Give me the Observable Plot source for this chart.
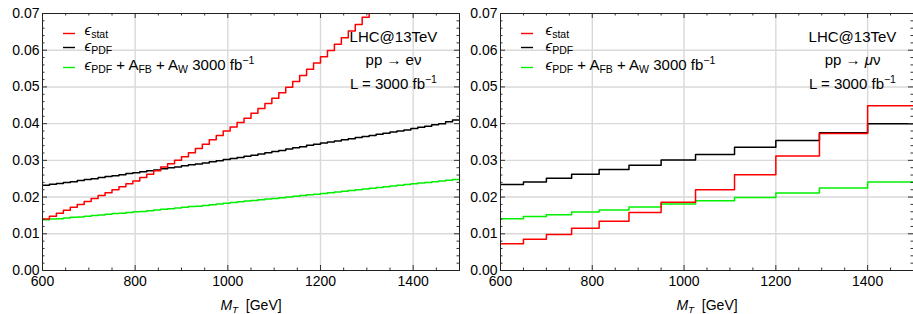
<!DOCTYPE html>
<html><head><meta charset="utf-8">
<script src="https://cdn.jsdelivr.net/npm/d3@7"></script>
<script src="https://cdn.jsdelivr.net/npm/@observablehq/plot@0.6"></script>
<style>
body{margin:0;background:#fff;}
#wrap{display:flex;width:913px;height:314px;overflow:hidden;background:#fff;}
#wrap > svg{flex:none;}
</style></head><body><div id="wrap"></div>
<script>
// ---------- data: left panel (pp -> e nu), 15 GeV bins ----------
const edgesL = [600,615,630,645,660,675,690,705,720,735,750,765,780,795,810,825,840,855,870,885,900,915,930,945,960,975,990,1005,1020,1035,1050,1065,1080,1095,1110,1125,1140,1155,1170,1185,1200,1215,1230,1245,1260,1275,1290,1305,1320,1335,1350,1365,1380,1395,1410,1425,1440,1455,1470,1485,1500];
const statL = [0.0140,0.0148,0.0156,0.0164,0.0172,0.0180,0.0188,0.0196,0.0204,0.0212,0.0220,0.0228,0.0236,0.0244,0.0253,0.0262,0.0272,0.0282,0.0291,0.0300,0.0310,0.0321,0.0332,0.0344,0.0356,0.0368,0.0380,0.0391,0.0403,0.0415,0.0428,0.0441,0.0455,0.0469,0.0484,0.0499,0.0515,0.0531,0.0548,0.0565,0.0582,0.0599,0.0616,0.0634,0.0652,0.0670,0.0690,0.0712];
const pdfL = [0.0232,0.0235,0.0237,0.0240,0.0242,0.0245,0.0248,0.0250,0.0253,0.0256,0.0258,0.0261,0.0264,0.0266,0.0269,0.0272,0.0274,0.0277,0.0280,0.0282,0.0285,0.0288,0.0290,0.0293,0.0296,0.0299,0.0302,0.0305,0.0308,0.0311,0.0314,0.0317,0.0321,0.0324,0.0327,0.0331,0.0334,0.0337,0.0341,0.0344,0.0347,0.0350,0.0353,0.0356,0.0359,0.0362,0.0365,0.0368,0.0371,0.0374,0.0377,0.0380,0.0383,0.0387,0.0390,0.0393,0.0397,0.0400,0.0405,0.0410];
const combL = [0.0138,0.0140,0.0141,0.0143,0.0145,0.0146,0.0148,0.0150,0.0151,0.0153,0.0155,0.0156,0.0158,0.0160,0.0161,0.0163,0.0165,0.0167,0.0168,0.0170,0.0172,0.0174,0.0175,0.0177,0.0179,0.0181,0.0183,0.0185,0.0187,0.0189,0.0191,0.0193,0.0195,0.0196,0.0198,0.0200,0.0202,0.0204,0.0206,0.0208,0.0210,0.0212,0.0214,0.0216,0.0218,0.0220,0.0222,0.0224,0.0226,0.0228,0.0230,0.0232,0.0234,0.0236,0.0238,0.0240,0.0242,0.0244,0.0246,0.0248];

// ---------- data: right panel (pp -> mu nu), coarse bins ----------
const edgesR = [600,650,700,755,815,880,950,1025,1110,1200,1295,1400,1500];
const statR = [0.0073,0.0085,0.0098,0.0115,0.0134,0.0158,0.0186,0.0220,0.0261,0.0312,0.0373,0.0449];
const pdfR = [0.0234,0.0241,0.0251,0.0262,0.0275,0.0287,0.0301,0.0316,0.0336,0.0354,0.0375,0.0400];
const combR = [0.0141,0.0147,0.0152,0.0159,0.0165,0.0173,0.0181,0.0190,0.0199,0.0211,0.0225,0.0241];

// ---------- labels & ticks ----------
const seriesNames = ["*ϵ*_{stat}", "*ϵ*_{PDF}", "*ϵ*_{PDF} + A_{FB} + A_{W} 3000 fb^{−1}"];
const seriesColors = ["#ff0000", "#000000", "#00f000"];
const annotL = ["LHC@13TeV", "pp → eν", "L = 3000 fb^{−1}"];
const annotR = ["LHC@13TeV", "pp → *μ*ν", "L = 3000 fb^{−1}"];
const xLabel = "*M*_{*T*}\u00a0\u00a0[GeV]";
const xMajor = [600, 800, 1000, 1200, 1400];
const xMinor = [650,700,750,850,900,950,1050,1100,1150,1250,1300,1350,1450,1500];
const xGrid = [800, 1000, 1200, 1400];
const yMajor = [0, 0.01, 0.02, 0.03, 0.04, 0.05, 0.06, 0.07];
const yMinor = [0.002,0.004,0.006,0.008,0.012,0.014,0.016,0.018,0.022,0.024,0.026,0.028,0.032,0.034,0.036,0.038,0.042,0.044,0.046,0.048,0.052,0.054,0.056,0.058,0.062,0.064,0.066,0.068];
const yGrid = [0.01, 0.02, 0.03, 0.04, 0.05, 0.06];

const H = 314, MT = 13, MB = 44;
const FONT = "'Liberation Sans', Arial, 'DejaVu Sans', sans-serif";

function stepRows(edges, values) {
  const rows = values.map((v, i) => ({x: edges[i], y: v}));
  rows.push({x: edges[values.length], y: values[values.length - 1]});
  return rows;
}

function panel({width, marginLeft, marginRight, edges, series, annot, legendDx, annotDx}) {
  const fw = width - marginLeft - marginRight, fh = H - MT - MB;
  const tickCol = "#333";
  const marks = [
    Plot.ruleX(xGrid, {x: d => d, stroke: "#d9d9d9", strokeWidth: 1.4}),
    Plot.ruleY(yGrid, {y: d => d, stroke: "#d9d9d9", strokeWidth: 1.4}),
  ];
  [2, 1, 0].forEach(k => {
    marks.push(Plot.line(stepRows(edges, series[k]), {x: "x", y: "y", curve: "step-after", stroke: seriesColors[k], strokeWidth: 1.5, clip: true}));
  });
  // inward ticks on all four sides
  marks.push(
    Plot.ruleX(xMajor, {x: d => d, insetTop: fh - 5, stroke: tickCol}),
    Plot.ruleX(xMajor, {x: d => d, insetBottom: fh - 5, stroke: tickCol}),
    Plot.ruleX(xMinor, {x: d => d, insetTop: fh - 2.5, stroke: tickCol}),
    Plot.ruleX(xMinor, {x: d => d, insetBottom: fh - 2.5, stroke: tickCol}),
    Plot.ruleY(yMajor, {y: d => d, insetRight: fw - 5, stroke: tickCol}),
    Plot.ruleY(yMajor, {y: d => d, insetLeft: fw - 5, stroke: tickCol}),
    Plot.ruleY(yMinor, {y: d => d, insetRight: fw - 2.5, stroke: tickCol}),
    Plot.ruleY(yMinor, {y: d => d, insetLeft: fw - 2.5, stroke: tickCol}),
    Plot.frame({stroke: "#222", strokeWidth: 1}),
    Plot.axisY({ticks: yMajor, tickSize: 0, tickPadding: 3, tickFormat: d3.format(".2f"), label: null, fontSize: 14}),
    Plot.axisX({ticks: xMajor, tickSize: 0, tickPadding: 6, tickFormat: d3.format("d"), label: null, fontSize: 14}),
    Plot.text([xLabel], {text: d => d, frameAnchor: "bottom", lineAnchor: "middle", dy: 35, fontSize: 14})
  );
  // legend
  const legDy = [17, 33, 52];
  const swDy = [20, 34, 54];
  seriesNames.forEach((name, k) => {
    marks.push(Plot.ruleY([0.07], {y: d => d, dy: swDy[k], insetLeft: 21, insetRight: fw - 33, stroke: seriesColors[k], strokeWidth: 1.4}));
    marks.push(Plot.text([name], {text: d => d, frameAnchor: "top-left", lineAnchor: "middle", dx: legendDx, dy: legDy[k], textAnchor: "start", fontSize: 15}));
  });
  // annotation
  const annDy = [24, 47, 71];
  annot.forEach((a, k) => {
    marks.push(Plot.text([a], {text: d => d, frameAnchor: "top-right", lineAnchor: "middle", dx: annotDx, dy: annDy[k], textAnchor: "middle", fontSize: 15}));
  });
  return Plot.plot({
    width, height: H, marginTop: MT, marginBottom: MB, marginLeft, marginRight,
    x: {domain: [600, 1500]},
    y: {domain: [0, 0.07]},
    style: {fontFamily: FONT, fontSize: "14px", background: "#fff", color: "#000"},
    marks
  });
}

function parseRich(s) {
  const runs = []; let level = 0, italic = false, buf = ""; const stack = [];
  const push = () => { if (buf) runs.push({text: buf, level, italic}); buf = ""; };
  for (let i = 0; i < s.length; i++) {
    const c = s[i];
    if ((c === "_" || c === "^") && s[i + 1] === "{") { push(); stack.push(level); level = c === "_" ? 1 : 2; i++; }
    else if (c === "}" && stack.length) { push(); level = stack.pop(); }
    else if (c === "*") { push(); italic = !italic; }
    else buf += c;
  }
  push();
  return runs;
}

function richify(svg) {
  svg.querySelectorAll("text").forEach(t => {
    const s = t.textContent;
    if (!/[_^*]/.test(s)) return;
    const fs = parseFloat(getComputedStyle(t).fontSize) || 14;
    const runs = parseRich(s);
    while (t.firstChild) t.removeChild(t.firstChild);
    t.style.whiteSpace = "pre";
    let cur = 0;
    runs.forEach(r => {
      const ts = document.createElementNS("http://www.w3.org/2000/svg", "tspan");
      const target = r.level === 1 ? fs * 0.2 : r.level === 2 ? -fs * 0.4 : 0;
      if (target !== cur) ts.setAttribute("dy", (target - cur).toFixed(2));
      cur = target;
      if (r.level) ts.setAttribute("font-size", (fs * 0.7).toFixed(1));
      if (r.italic) ts.setAttribute("font-style", "italic");
      ts.textContent = r.text;
      t.appendChild(ts);
    });
  });
}

const wrap = document.getElementById("wrap");
const left = panel({width: 460, marginLeft: 42, marginRight: 1, edges: edgesL, series: [statL, pdfL, combL], annot: annotL, legendDx: 42, annotDx: -66});
const right = panel({width: 453, marginLeft: 40, marginRight: 0, edges: edgesR, series: [statR, pdfR, combR], annot: annotR, legendDx: 45, annotDx: -61});
wrap.appendChild(left);
wrap.appendChild(right);
richify(left);
richify(right);
</script>
</body></html>
